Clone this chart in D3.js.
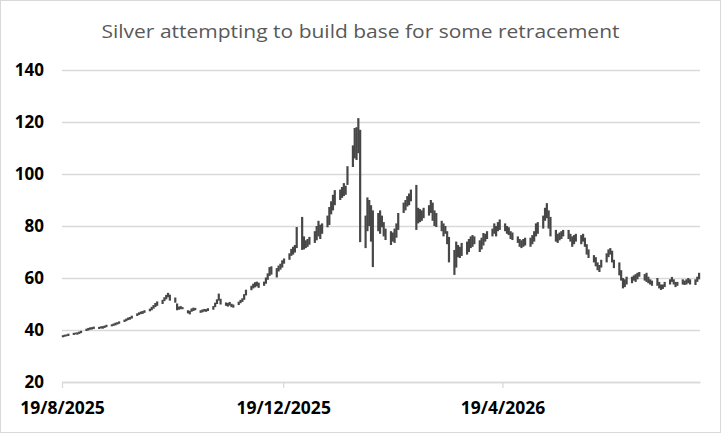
<!DOCTYPE html>
<html>
<head>
<meta charset="utf-8">
<script src="https://cdn.jsdelivr.net/npm/d3@7"></script>
<style>
  body { margin: 0; background: #fff; }
  text { font-family: "Open Sans", sans-serif; }
</style>
</head>
<body>
<svg id="chart"></svg>
<script>
const title = "Silver attempting to build base for some retracement";
const firstDay = "2025-08-19";
const lastDay = "2026-08-05";
const xTickDates = ["2025-08-19", "2025-12-19", "2026-04-19"];
const yTickValues = [20, 40, 60, 80, 100, 120, 140];

// daily lows, one line per trading week (first week starts Tue 19/8/2025)
const lows = [
  37.2, 37.4, 37.6, 37.7,
  38.1, 38.3, 38.2, 38.5, 38.8,
  39.6, 39.8, 40.1, 40.2, 40.4,
  40.4, 40.6, 40.5, 40.8, 41.1,
  41.4, 41.6, 41.8, 42.1, 42.4,
  43.1, 43.4, 43.8, 44.0, 44.4,
  45.4, 45.8, 46.1, 46.2, 46.6,
  47.2, 47.6, 48.2, 48.8, 49.3,
  50.0, 51.1, 51.8, 52.6, 51.3,
  50.5, 47.6, 47.8, 48.0, 48.0,
  46.4, 46.0, 47.0, 47.3, 47.6,
  46.6, 46.8, 47.1, 47.0, 47.3,
  47.8, 48.8, 50.0, 51.3, 49.8,
  49.3, 49.0, 49.4, 48.8, 48.6,
  49.6, 50.3, 50.8, 51.6, 53.3,
  55.3, 56.0, 56.4, 56.8, 56.2,
  57.0, 57.8, 59.3, 60.8, 61.3,
  60.2, 62.5, 63.2, 64.0, 65.5,
  67.0, 68.5, 69.0, 69.8, 71.5,
  70.8, 71.0, 71.5, 72.0, 72.8,
  73.5, 74.5, 76.0, 75.0, 77.0,
  79.5, 80.4, 84.5, 86.0, 88.0,
  90.0, 90.8, 91.5, 92.0, 95.8,
  102.7, 106.0, 105.4, 108.0, 73.8,
  71.5, 78.0, 80.0, 74.0, 64.2,
  78.0, 77.0, 79.5, 76.0, 74.6,
  72.7, 74.0, 73.5, 75.5, 78.5,
  85.0, 86.0, 87.5, 88.0, 89.5,
  78.5, 81.0, 81.5, 82.0, 83.0,
  84.0, 85.0, 82.0, 80.0, 79.6,
  78.0, 76.0, 77.0, 73.0, 66.0,
  61.2, 64.0, 68.0, 67.7, 68.5,
  69.0, 70.0, 71.5, 72.0, 73.0,
  70.0, 71.0, 72.5, 74.0, 75.0,
  76.0, 77.0, 76.0, 78.0, 78.5,
  78.0, 77.0, 76.5, 75.0, 74.6,
  73.5, 72.0, 71.5, 72.0, 72.5,
  72.0, 73.0, 74.0, 76.0, 77.0,
  79.0, 82.0, 83.0, 79.0, 76.0,
  74.0, 73.5, 74.5, 75.0, 76.0,
  75.0, 74.0, 72.0, 73.0, 74.0,
  73.0, 74.0, 72.0, 69.0, 67.7,
  66.0, 64.5, 63.0, 62.3, 64.0,
  66.0, 68.0, 69.0, 66.0, 63.8,
  61.0, 59.0, 56.0, 56.5, 57.5,
  58.0, 59.0, 58.5, 59.5, 60.5,
  59.0, 58.5, 58.0, 57.5, 57.0,
  57.0, 56.0, 55.4, 55.8, 56.5,
  57.5, 58.5, 57.5, 56.5, 57.0,
  57.5, 57.3, 57.5, 58.0, 57.5,
  57.3, 58.5, 59.5
];

// daily highs, same layout
const highs = [
  38.0, 38.2, 38.3, 38.6,
  38.9, 39.0, 39.1, 39.4, 39.7,
  40.5, 40.8, 41.0, 41.1, 41.3,
  41.2, 41.4, 41.5, 41.7, 42.0,
  42.2, 42.5, 42.8, 43.0, 43.3,
  44.0, 44.4, 44.8, 45.0, 45.5,
  46.4, 46.8, 47.1, 47.3, 47.6,
  48.2, 48.9, 49.6, 50.4, 51.0,
  51.6, 52.6, 53.5, 54.3, 53.6,
  52.5, 50.2, 49.0, 49.2, 48.8,
  47.6, 47.4, 48.3, 48.6, 48.5,
  47.6, 47.9, 48.1, 48.0, 48.4,
  49.2, 50.5, 51.8, 54.0, 52.0,
  50.6, 50.4, 50.8, 50.1, 49.8,
  50.9, 51.6, 52.2, 53.8, 55.5,
  57.0, 57.8, 58.4, 58.6, 58.2,
  58.6, 60.2, 61.8, 64.2, 64.5,
  63.8, 64.8, 65.5, 66.8, 67.5,
  69.5, 71.2, 72.0, 72.7, 79.6,
  83.5, 76.0, 74.5, 75.0, 75.8,
  78.0, 80.0, 82.0, 80.5, 81.0,
  84.0, 87.3, 89.5, 92.0, 93.8,
  94.0, 95.0, 96.5, 95.5, 103.0,
  111.0, 117.7, 118.0, 121.5, 117.0,
  84.0, 91.0, 90.0, 88.0, 86.0,
  85.0, 86.0, 84.0, 81.5, 79.0,
  78.0, 77.5, 79.0, 81.0, 85.0,
  89.0, 90.0, 91.5, 92.5, 94.0,
  95.8, 87.0, 86.5, 86.0, 87.0,
  88.0, 90.0, 89.0, 86.0, 85.0,
  82.0, 81.0, 80.0, 78.0, 75.8,
  70.8, 74.0, 72.7, 72.0, 73.5,
  74.0, 75.0, 76.0, 76.5, 76.0,
  74.5, 75.5, 77.3, 77.0, 78.0,
  79.0, 81.0, 80.0, 81.5, 82.5,
  81.0, 80.0, 79.5, 78.0, 77.5,
  76.0, 75.0, 74.5, 75.0, 75.5,
  75.5, 76.5, 78.0, 81.0, 81.5,
  84.0, 87.0, 88.8, 86.0, 83.5,
  78.5, 77.0, 77.5, 78.0, 78.5,
  78.5, 77.0, 76.0, 76.5, 77.0,
  76.5, 77.0, 75.5, 73.0, 71.0,
  68.8, 68.0, 66.0, 65.0, 67.0,
  69.5, 71.0, 71.5, 70.5, 67.0,
  66.0, 63.0, 60.0, 59.5, 60.5,
  60.5, 61.0, 61.5, 62.0, 62.3,
  61.5, 62.0, 60.5, 59.5, 59.0,
  60.0, 58.5, 57.5, 57.5, 58.5,
  59.5, 60.4, 59.5, 58.5, 58.5,
  59.5, 59.0, 59.5, 60.0, 59.5,
  59.5, 60.5, 62.0
];

const width = 721, height = 433;
const margin = { top: 70, right: 21, bottom: 51, left: 62 };
const gridColor = "#d9d9d9";

const parse = d3.timeParse("%Y-%m-%d");
const start = parse(firstDay);
const end = d3.timeDay.offset(parse(lastDay), 1);

// trading days = weekdays between first and last day
const tradingDays = d3.timeDay.range(start, end).filter(d => d.getDay() % 6 !== 0);
const data = tradingDays.map((d, i) => ({ date: d, low: lows[i], high: highs[i] }));

const svg = d3.select("#chart")
  .attr("width", width)
  .attr("height", height);

svg.append("rect")
  .attr("x", 0.5).attr("y", 0.5)
  .attr("width", width - 1).attr("height", height - 1)
  .attr("fill", "#fff")
  .attr("stroke", gridColor);

const x = d3.scaleTime()
  .domain([start, end])
  .range([margin.left, width - margin.right]);

const y = d3.scaleLinear()
  .domain([20, 140])
  .range([height - margin.bottom, margin.top]);

const halfDay = (x(d3.timeDay.offset(start, 1)) - x(start)) / 2;

// horizontal gridlines + y labels
const yAxis = svg.append("g")
  .attr("transform", `translate(${margin.left},0)`)
  .call(d3.axisLeft(y)
    .tickValues(yTickValues)
    .tickSize(-(width - margin.left - margin.right))
    .tickPadding(18));
yAxis.select(".domain").remove();
yAxis.selectAll(".tick line")
  .attr("stroke", gridColor)
  .attr("stroke-width", 1.3);
yAxis.selectAll(".tick text")
  .style("font-size", "17px")
  .style("font-weight", "700")
  .attr("fill", "#000");

// date axis
const xAxis = svg.append("g")
  .attr("transform", `translate(0,${height - margin.bottom})`)
  .call(d3.axisBottom(x)
    .tickValues(xTickDates.map(parse))
    .tickFormat(d3.timeFormat("%-d/%-m/%Y"))
    .tickSize(6)
    .tickSizeOuter(0)
    .tickPadding(14));
xAxis.select(".domain")
  .attr("stroke", gridColor)
  .attr("stroke-width", 1.3);
xAxis.selectAll(".tick line")
  .attr("stroke", gridColor)
  .attr("stroke-width", 1.3);
xAxis.selectAll(".tick text")
  .style("font-size", "17.5px")
  .style("font-weight", "700")
  .attr("fill", "#000");

// high-low bars
svg.append("g")
  .selectAll("line")
  .data(data)
  .join("line")
  .attr("x1", d => x(d.date) + halfDay)
  .attr("x2", d => x(d.date) + halfDay)
  .attr("y1", d => y(d.low))
  .attr("y2", d => y(d.high))
  .attr("stroke", "#474747")
  .attr("stroke-width", 2.2);

svg.append("text")
  .attr("x", width / 2)
  .attr("y", 38)
  .attr("text-anchor", "middle")
  .attr("fill", "#595959")
  .attr("textLength", 518)
  .attr("lengthAdjust", "spacingAndGlyphs")
  .style("font-size", "19px")
  .text(title);
</script>
</body>
</html>
